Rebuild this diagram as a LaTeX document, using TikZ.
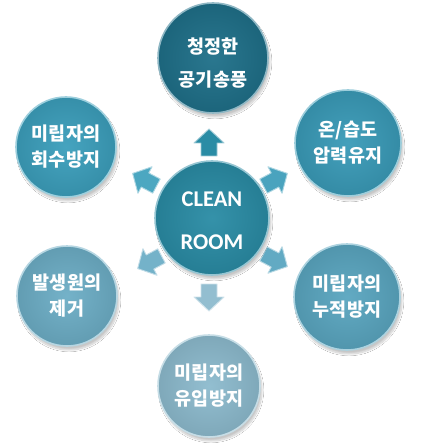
\documentclass[tikz,border=0pt]{standalone}
\usepackage{fontspec}
\newfontfamily\kr{Noto Sans CJK KR}
\newfontfamily\lat{Carlito}
\usetikzlibrary{shadows.blur}
\tikzset{
  disc/.style 2 args={circle, minimum size=#1, inner sep=0pt, text=white, align=center,
    shading=radial, inner color=#2!95!white, outer color=#2!90!black,
    draw=#2!50!white, line width=1.6pt,
    blur shadow={shadow xshift=2pt, shadow yshift=-4pt, shadow opacity=22, shadow blur steps=10},
    font=\kr\bfseries\fontsize{18.5}{26}\selectfont},
  lbl/.style={text=white, align=center, inner sep=0pt},
  blkarrow/.pic={
    \path[fill=#1, draw=#1!45!white, line width=0.9pt, line join=round]
      (-13,-8) -- (0,-8) -- (0,-15) -- (14,0) -- (0,15) -- (0,8) -- (-13,8) -- cycle;
  },
}
\definecolor{cT}{HTML}{1F7089}
\definecolor{cC}{HTML}{2A8CA5}
\definecolor{cUL}{HTML}{3C9FBC}
\definecolor{cUR}{HTML}{3A9BB8}
\definecolor{cLR}{HTML}{5AA6C0}
\definecolor{cLL}{HTML}{6DAEC6}
\definecolor{cB}{HTML}{8DBBCE}
\begin{document}
\begin{tikzpicture}[x=1pt,y=1pt]
\useasboundingbox[fill=white] (0,0) rectangle (426,-446);
% block arrows
\pic[rotate=90]  at (209,-143) {blkarrow=cC};
\pic[rotate=152] at (145,-180) {blkarrow=cUL!92!white};
\pic[rotate=28]  at (275,-180) {blkarrow=cUR!92!white};
\pic[rotate=208] at (150,-262) {blkarrow=cLL!95!white};
\pic[rotate=-28] at (275,-260) {blkarrow=cLR!95!white};
\pic[rotate=-90] at (209,-297) {blkarrow=cB!95!white};
% circles
\node[disc={114pt}{cC}] (c) at (212,-218) {};
\node[lbl, font=\lat\bfseries\fontsize{22.5}{43}\selectfont] (ct) at ([yshift=-3pt]c.center) {CLEAN\\ROOM};
\node[disc={110pt}{cT}] (t) at (213,-58) {};
\node[lbl, font=\kr\bfseries\fontsize{18.5}{33}\selectfont] (tt) at ([yshift=-5pt]t.center) {청정한\\공기송풍};
\node[disc={100pt}{cUL}] (ul) at (66,-147) {미립자의\\회수방지};
\node[disc={106pt}{cUR}] (ur) at (348,-143) {온/습도\\압력유지};
\node[disc={100pt}{cLL}] (ll) at (67,-296) {발생원의\\제거};
\node[disc={106pt}{cLR}] (lr) at (347,-297) {미립자의\\누적방지};
\node[disc={102pt}{cB}] (b) at (209,-386) {미립자의\\유입방지};
\end{tikzpicture}
\end{document}
